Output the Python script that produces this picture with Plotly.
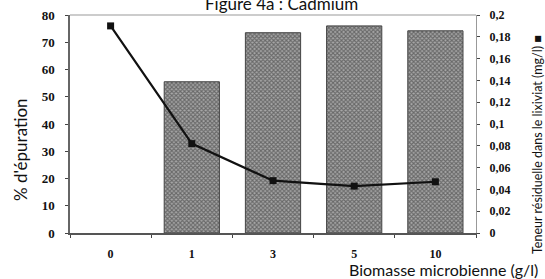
import plotly.graph_objects as go

categories = ["0", "1", "3", "5", "10"]
epuration = [0, 55.5, 73.5, 76, 74.2]          # % d'épuration (bars, left axis)
teneur = [0.19, 0.082, 0.048, 0.043, 0.047]     # mg/l (line, right axis)
left_ticks = [0, 10, 20, 30, 40, 50, 60, 70, 80]
right_tickvals = [0, 0.02, 0.04, 0.06, 0.08, 0.1, 0.12, 0.14, 0.16, 0.18, 0.2]
right_ticktext = ["0", "0,02", "0,04", "0,06", "0,08", "0,1", "0,12", "0,14", "0,16", "0,18", "0,2"]

W, H = 545, 279
L, R, T, B = 70, 476, 15, 233

fig = go.Figure()
fig.add_trace(go.Bar(
    x=categories, y=epuration, width=0.68,
    marker=dict(color="#909090",
                line=dict(color="#444", width=[0 if v == 0 else 1 for v in epuration]),
                pattern=dict(shape="x", size=3, solidity=0.6, fgcolor="#2a2a2a", bgcolor="#a8a8a8")),
    showlegend=False))
fig.add_trace(go.Scatter(
    x=categories, y=teneur, yaxis="y2", mode="lines+markers",
    line=dict(color="#111", width=2.2),
    marker=dict(symbol="square", size=7, color="#111"),
    showlegend=False))

tickfont = dict(family="Liberation Serif", size=13, color="#111", weight="bold")
fig.update_layout(
    width=W, height=H,
    margin=dict(l=L, r=W - R, t=T, b=H - B, autoexpand=False),
    paper_bgcolor="white", plot_bgcolor="white",
    xaxis=dict(type="category", tickson="boundaries", ticks="outside", ticklen=3,
               tickcolor="#444", showline=True, linecolor="#555", linewidth=1.5,
               mirror=False, showgrid=False,
               tickfont=dict(family="Liberation Serif", size=12, color="#111", weight="bold"),
               ticklabelstandoff=9),
    yaxis=dict(range=[0, 80], tickvals=left_ticks, ticks="outside", ticklen=3,
               tickcolor="#444", showline=True, linecolor="#666", linewidth=1.5,
               showgrid=False, zeroline=False, tickfont=tickfont, ticklabelstandoff=8),
    yaxis2=dict(range=[0, 0.2], overlaying="y", side="right", tickvals=right_tickvals,
                ticktext=right_ticktext, ticks="outside", ticklen=3, tickcolor="#444",
                showline=True, linecolor="#999", linewidth=1, showgrid=False, zeroline=False,
                tickfont=dict(family="Liberation Serif", size=12, color="#111", weight="bold"),
                ticklabelstandoff=7),
    font=dict(family="Lato", color="#111"),
)
# top frame line
fig.add_shape(type="line", xref="paper", yref="paper", x0=0, x1=1, y0=1, y1=1,
              line=dict(color="#999", width=1.2))


def px(x):
    return (x - L) / (R - L)


def py(y):
    return (B - y) / (B - T)


fig.add_annotation(text="Figure 4a : Cadmium", xref="paper", yref="paper",
                   x=px(281), y=py(3), showarrow=False, font=dict(size=17, family="Lato"),
                   xanchor="center", yanchor="middle")
fig.add_annotation(text="% d'épuration", xref="paper", yref="paper",
                   x=px(20), y=py(150), showarrow=False, textangle=-90,
                   font=dict(size=17, family="Lato"), xanchor="center", yanchor="middle")
fig.add_annotation(text="Teneur résiduelle dans le lixiviat (mg/l) ■", xref="paper", yref="paper",
                   x=px(537), y=py(145), showarrow=False, textangle=-90,
                   font=dict(size=12.5, family="Lato"), xanchor="center", yanchor="middle")
fig.add_annotation(text="Biomasse microbienne (g/l)", xref="paper", yref="paper",
                   x=px(540), y=py(269), showarrow=False,
                   font=dict(size=16, family="Lato"), xanchor="right", yanchor="middle")

fig.write_html("out.html", config={"displayModeBar": False},
               post_script="document.body.style.margin='0';")
